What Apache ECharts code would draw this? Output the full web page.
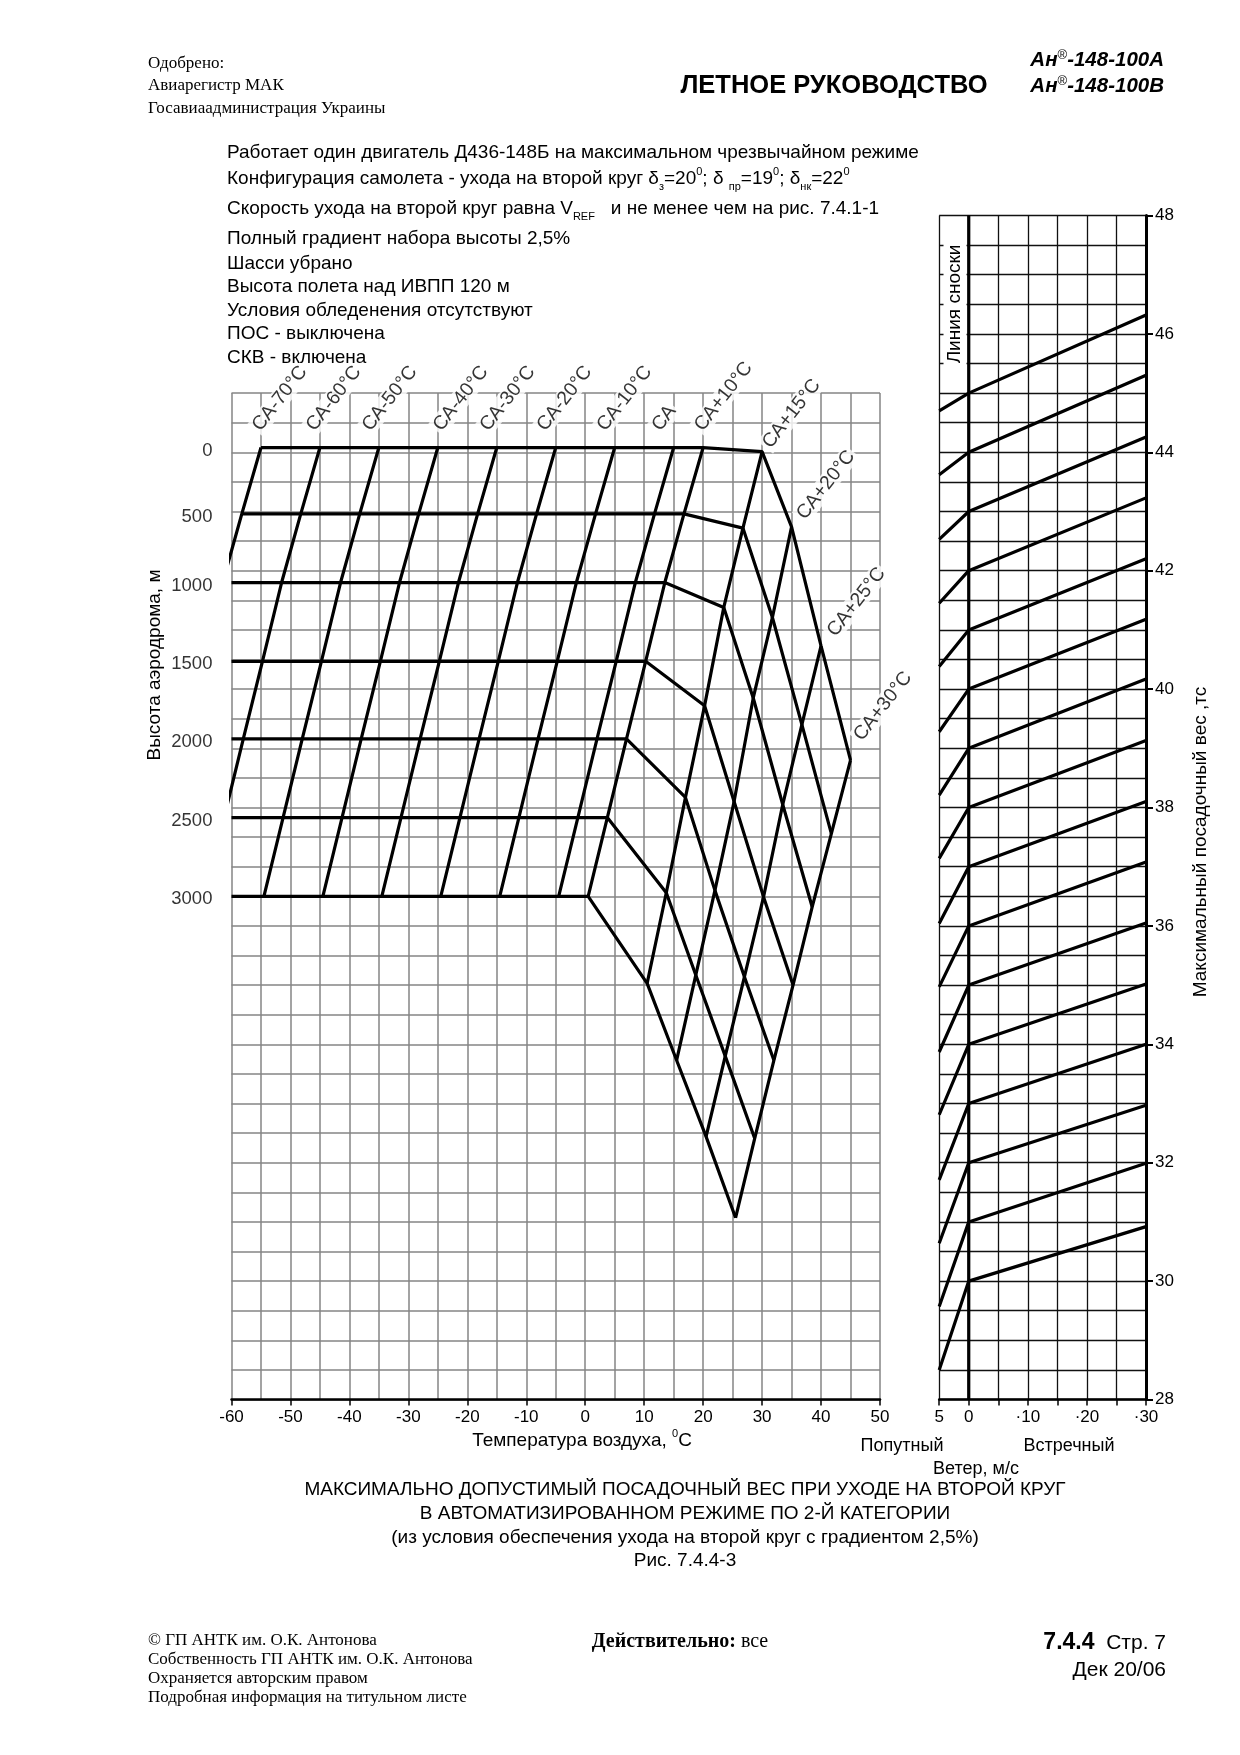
<!DOCTYPE html>
<html><head><meta charset="utf-8">
<script src="https://cdn.jsdelivr.net/npm/echarts@6/dist/echarts.min.js"></script>
<style>html,body{margin:0;padding:0;background:#fff}#chart{width:1240px;height:1755px}</style>
</head><body><div id="chart"></div>
<script>
// ================= DATA =================
// Left panel: altitude curves (weight level of the flat part, t)
const altitudeLabels = ['0','500','1000','1500','2000','2500','3000'];
const altitudeFlatW  = [44.08, 42.96, 41.80, 40.47, 39.16, 37.83, 36.50];
const altitudeStartT = [-55, -58.25, -60, -60, -60, -60, -60];

// Temperature (°C) of each СА line where it crosses the altitude curves 0..3000 m
const caM70 = [-55, -58.25, -61.5, -64.75, -68, -71.25, -74.5];
const caM60 = [-45, -48.25, -51.5, -54.75, -58, -61.25, -64.5];
const caM50 = [-35, -38.25, -41.5, -44.75, -48, -51.25, -54.5];
const caM40 = [-25, -28.25, -31.5, -34.75, -38, -41.25, -44.5];
const caM30 = [-15, -18.25, -21.5, -24.75, -28, -31.25, -34.5];
const caM20 = [-5, -8.25, -11.5, -14.75, -18, -21.25, -24.5];
const caM10 = [5, 1.75, -1.5, -4.75, -8, -11.25, -14.5];
const caStd = [15, 11.75, 8.5, 5.25, 2, -1.25, -4.5];
const caP10 = [20, 16.75, 13.5, 10.25, 7, 3.75, 0.5];
const coldLineNames = ['СА-70°C','СА-60°C','СА-50°C','СА-40°C','СА-30°C','СА-20°C','СА-10°C','СА','СА+10°C'];

// Hot lattice nodes [T °C, W t] per altitude 0..3000 m
const caP15 = [[30,44.01],[26.75,42.72],[23.5,41.38],[20.25,39.72],[17,38.17],[13.75,36.56],[10.5,35.03]];
const caP20 = [[35,42.74],[31.75,41.21],[28.5,39.85],[25.25,38.10],[22,36.60],[18.75,35.17],[15.5,33.73]];
const caP25 = [[40,40.73],[36.75,39.40],[33.5,38.05],[30.25,36.49],[27,35.14],[23.75,33.80],[20.5,32.44]];
const caP30 = [[45,38.80],[41.75,37.56],[38.5,36.32],[35.25,35.00],[32,33.73],[28.75,32.41],[25.5,31.07]];
const hotLineNames = ['СА+15°C','СА+20°C','СА+25°C','СА+30°C'];

// Right panel: wind correction lines (weight at wind -5 (tail 5), 0, 30 m/s)
const windX     = [-5, 0, 30];
const windBaseW = [45, 44, 43, 42, 41, 40, 39, 38, 37, 36, 35, 34, 33, 32, 31, 30];
const windTailW = [44.70, 43.62, 42.53, 41.45, 40.38, 39.28, 38.21, 37.14, 36.04, 34.97, 33.87, 32.81, 31.71, 30.64, 29.57, 28.50];
const windHeadW = [46.32, 45.30, 44.26, 43.23, 42.20, 41.18, 40.17, 39.13, 38.10, 37.08, 36.05, 35.02, 34.00, 32.97, 31.99, 30.92];

// ================= STYLE =================
const SANS = '"Liberation Sans", Arial, sans-serif';
const SERIF = '"Liberation Serif", "Times New Roman", serif';
const CURVE = {color:'#000', width:3.2};
const GRAY = '#858585';

const series = [];
function curve(gi, data){
  series.push({type:'line', xAxisIndex:gi, yAxisIndex:gi, data:data, symbol:'none', silent:true,
    clip:true, z:3, lineStyle:CURVE});
}
for (let i=0;i<altitudeFlatW.length;i++){
  curve(0, [[altitudeStartT[i], altitudeFlatW[i]], [caP10[i], altitudeFlatW[i]], caP15[i], caP20[i], caP25[i], caP30[i]]);
}
const coldLines = [caM70, caM60, caM50, caM40, caM30, caM20, caM10, caStd, caP10];
coldLines.forEach(arr => curve(0, arr.map((t,i)=>[t, altitudeFlatW[i]])));
const hotLines = [caP15, caP20, caP25, caP30];
hotLines.forEach(arr => curve(0, arr));

// labels of СА lines (pixel offsets of the label anchor from the top of each line)
const coldOffsets = [[2,-11],[-3,-11],[-6,-11],[6,-11],[-6,-11],[-8,-11],[-7,-11],[-11,-11],[2,-11]];
const hotOffsets = [[11,2],[16,-2],[17,-4],[14,-14]];
const labelData = [];
coldLines.forEach((arr,i)=>labelData.push({name:coldLineNames[i], value:[arr[0], altitudeFlatW[0]], label:{position:coldOffsets[i]}}));
hotLines.forEach((arr,i)=>labelData.push({name:hotLineNames[i], value:arr[0], label:{position:hotOffsets[i]}}));
series.push({type:'scatter', xAxisIndex:0, yAxisIndex:0, symbolSize:0.1, silent:true, z:10,
  itemStyle:{color:'rgba(0,0,0,0)'}, data:labelData,
  label:{show:true, formatter:'{b}', rotate:52, align:'left', verticalAlign:'bottom',
    fontSize:19.5, fontFamily:SANS, color:'#000', backgroundColor:'#fff', padding:[0,2,0,2]}});

// altitude labels
series.push({type:'scatter', xAxisIndex:0, yAxisIndex:0, symbolSize:0.1, silent:true, z:10,
  itemStyle:{color:'rgba(0,0,0,0)'},
  data: altitudeLabels.map((s,i)=>({name:s, value:[-60, altitudeFlatW[i]]})),
  label:{show:true, formatter:'{b}', position:'left', distance:19, offset:[0,3], fontSize:18.5, fontFamily:SANS, color:'#000'}});

// wind lines
windBaseW.forEach((w,i)=>curve(1, [[windX[0], windTailW[i]], [windX[1], w], [windX[2], windHeadW[i]]]));
series.push({type:'line', xAxisIndex:1, yAxisIndex:1, data:[[0,28],[0,48]], symbol:'none', silent:true, z:4,
  lineStyle:{color:'#000', width:3.2}});

// ================= TEXT =================
function txt(x, y, text, opt){
  opt = opt || {};
  return {type:'text', x:x, y:y, rotation:opt.rotation||0, z:20, silent:true,
    style:Object.assign({text:text, fill:'#000', align:opt.align||'left', verticalAlign:'middle',
      font:opt.font || ('19px '+SANS)}, opt.style||{})};
}
const richSans = {
  t:{fontSize:19, fontFamily:SANS, color:'#000', lineHeight:26},
  sub:{fontSize:11, fontFamily:SANS, color:'#000', verticalAlign:'bottom', lineHeight:12},
  sup:{fontSize:11, fontFamily:SANS, color:'#000', verticalAlign:'top', lineHeight:12}
};
const noteLines = [
  '{t|Работает один двигатель Д436-148Б на максимальном чрезвычайном режиме}',
  '{t|Конфигурация самолета - ухода на второй круг δ}{sub|з}{t|=20}{sup|0}{t|; δ }{sub|пр}{t|=19}{sup|0}{t|; δ}{sub|нк}{t|=22}{sup|0}',
  '{t|Скорость ухода на второй круг равна V}{sub|REF}{t|   и не менее чем на рис. 7.4.1-1}',
  '{t|Полный градиент набора высоты 2,5%}',
  '{t|Шасси убрано}',
  '{t|Высота полета над ИВПП 120 м}',
  '{t|Условия обледенения отсутствуют}',
  '{t|ПОС - выключена}',
  '{t|СКВ - включена}'
];
const noteY = [153, 179, 209, 239, 264, 287, 311, 334, 358];
const graphics = [];
noteLines.forEach((s,i)=>graphics.push(txt(227, noteY[i], s, {style:{rich:richSans}})));

graphics.push(txt(148, 64, 'Одобрено:', {font:'17px '+SERIF}));
graphics.push(txt(148, 86, 'Авиарегистр МАК', {font:'17px '+SERIF}));
graphics.push(txt(148, 108.5, 'Госавиаадминистрация Украины', {font:'17px '+SERIF}));
graphics.push(txt(834, 86, 'ЛЕТНОЕ РУКОВОДСТВО', {align:'center', font:'bold 25.5px '+SANS}));
const richModel = {a:{fontSize:20.5, fontWeight:'bold', fontStyle:'italic', fontFamily:SANS, color:'#000', lineHeight:22},
  s:{fontSize:13, fontWeight:'normal', fontFamily:SANS, color:'#000', verticalAlign:'top', lineHeight:12}};
graphics.push(txt(1164, 60, '{a|Ан}{s|®}{a|-148-100А}', {align:'right', style:{rich:richModel}}));
graphics.push(txt(1164, 86, '{a|Ан}{s|®}{a|-148-100В}', {align:'right', style:{rich:richModel}}));

graphics.push(txt(155, 665, 'Высота аэродрома, м', {align:'center', rotation:Math.PI/2}));
graphics.push(txt(955, 304, 'Линия сноски', {align:'center', rotation:Math.PI/2, font:'19px '+SANS,
  style:{backgroundColor:'#fff', padding:[2,3,2,3]}}));
graphics.push(txt(1201, 842, 'Максимальный посадочный вес ,тс', {align:'center', rotation:Math.PI/2, font:'19px '+SANS}));
graphics.push(txt(582, 1441, '{t|Температура воздуха, }{sup|0}{t|C}', {align:'center', style:{rich:richSans}}));
graphics.push(txt(902, 1446, 'Попутный', {align:'center', font:'18px '+SANS}));
graphics.push(txt(1069, 1446, 'Встречный', {align:'center', font:'18px '+SANS}));
graphics.push(txt(976, 1469, 'Ветер, м/с', {align:'center', font:'18px '+SANS}));

graphics.push(txt(685, 1490, 'МАКСИМАЛЬНО ДОПУСТИМЫЙ ПОСАДОЧНЫЙ ВЕС ПРИ УХОДЕ НА ВТОРОЙ КРУГ', {align:'center'}));
graphics.push(txt(685, 1514, 'В АВТОМАТИЗИРОВАННОМ РЕЖИМЕ ПО 2-Й КАТЕГОРИИ', {align:'center'}));
graphics.push(txt(685, 1537.5, '(из условия обеспечения ухода на второй круг с градиентом 2,5%)', {align:'center'}));
graphics.push(txt(685, 1561, 'Рис. 7.4.4-3', {align:'center'}));

graphics.push(txt(148, 1641, '© ГП АНТК им. О.К. Антонова', {font:'17px '+SERIF}));
graphics.push(txt(148, 1660, 'Собственность ГП АНТК им. О.К. Антонова', {font:'17px '+SERIF}));
graphics.push(txt(148, 1679, 'Охраняется авторским правом', {font:'17px '+SERIF}));
graphics.push(txt(148, 1698, 'Подробная информация на титульном листе', {font:'17px '+SERIF}));
graphics.push(txt(680, 1642, '{b|Действительно:}{r| все}', {align:'center', style:{rich:{
  b:{fontSize:20, fontWeight:'bold', fontFamily:SERIF, color:'#000'},
  r:{fontSize:20, fontFamily:SERIF, color:'#000'}}}}));
graphics.push(txt(1166, 1643, '{b|7.4.4}{r|  Стр. 7}', {align:'right', style:{rich:{
  b:{fontSize:23, fontWeight:'bold', fontFamily:SANS, color:'#000'},
  r:{fontSize:21, fontFamily:SANS, color:'#000'}}}}));
graphics.push(txt(1166, 1670, 'Дек 20/06', {align:'right', font:'21px '+SANS}));

// ================= OPTION =================
const option = {
  animation:false,
  backgroundColor:'#fff',
  grid:[
    {left:231.5, top:393.1, width:648.5, height:1006.4, containLabel:false},
    {left:939.2, top:215.5, width:206.8, height:1184, containLabel:false}
  ],
  xAxis:[
    {gridIndex:0, type:'value', min:-60, max:50, interval:10,
      axisLine:{show:true, onZero:false, lineStyle:{color:'#000', width:2.5}},
      axisTick:{show:true, length:6, lineStyle:{color:'#000', width:1.5}},
      axisLabel:{fontSize:17, fontFamily:SANS, color:'#000', margin:9},
      splitLine:{show:true, lineStyle:{color:GRAY, width:1.5}},
      minorTick:{show:false, splitNumber:2},
      minorSplitLine:{show:true, lineStyle:{color:GRAY, width:1.5}}},
    {gridIndex:1, type:'value', min:-5, max:30, interval:5,
      axisLine:{show:true, onZero:false, lineStyle:{color:'#000', width:2.5}},
      axisTick:{show:true, length:6, lineStyle:{color:'#000', width:1.5}},
      axisLabel:{fontSize:17, fontFamily:SANS, color:'#000', margin:9,
        formatter:v => v===-5 ? '5' : (v===0 ? '0' : (v%10===0 ? '·'+v : ''))},
      splitLine:{show:true, lineStyle:{color:'#111', width:1.3}}}
  ],
  yAxis:[
    {gridIndex:0, type:'value', min:28, max:45, interval:0.5,
      axisLine:{show:false}, axisTick:{show:false}, axisLabel:{show:false},
      splitLine:{show:true, lineStyle:{color:GRAY, width:1.5}}},
    {gridIndex:1, type:'value', position:'right', min:28, max:48, interval:2,
      axisLine:{show:true, onZero:false, lineStyle:{color:'#000', width:3}},
      axisTick:{show:true, length:7, lineStyle:{color:'#000', width:2}},
      axisLabel:{fontSize:17, fontFamily:SANS, color:'#000', margin:9},
      splitLine:{show:true, lineStyle:{color:'#111', width:1.3}},
      minorTick:{show:false, splitNumber:4},
      minorSplitLine:{show:true, lineStyle:{color:'#111', width:1.3}}}
  ],
  series:series,
  graphic:graphics
};
const chart = echarts.init(document.getElementById('chart'));
chart.setOption(option);
</script></body></html>
